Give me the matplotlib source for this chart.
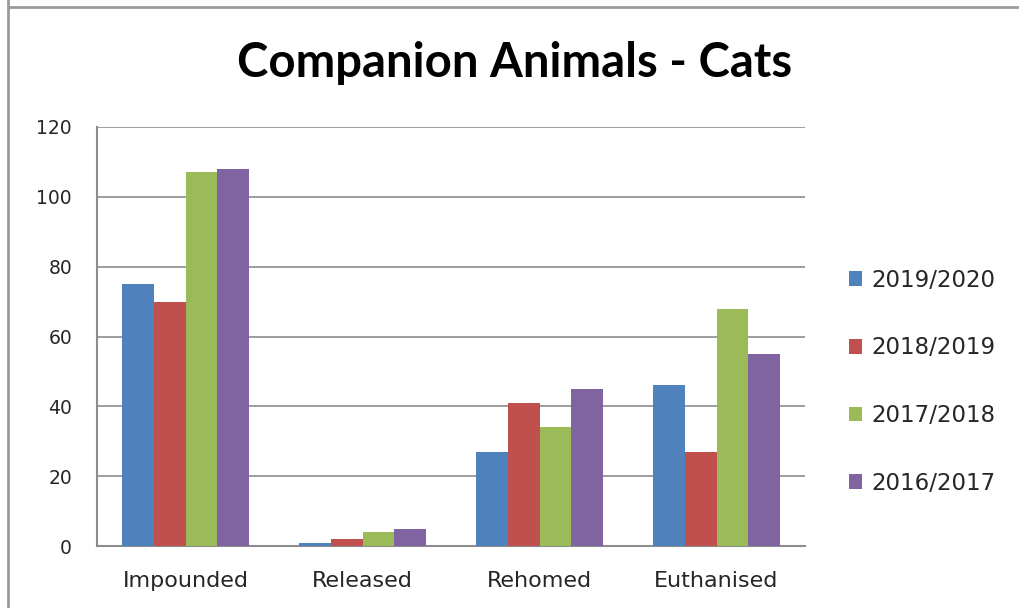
import numpy as np
import matplotlib
matplotlib.use("Agg")
import matplotlib.pyplot as plt
from matplotlib.lines import Line2D

# data
categories = ["Impounded", "Released", "Rehomed", "Euthanised"]
years = ["2019/2020", "2018/2019", "2017/2018", "2016/2017"]
v_2019_2020 = [75, 1, 27, 46]
v_2018_2019 = [70, 2, 41, 27]
v_2017_2018 = [107, 4, 34, 68]
v_2016_2017 = [108, 5, 45, 55]
series = [v_2019_2020, v_2018_2019, v_2017_2018, v_2016_2017]
colors = ["#4F81BD", "#C0504D", "#9BBB59", "#8064A2"]

fig = plt.figure(figsize=(10.19, 6.08), dpi=100)
ax = fig.add_axes([97 / 1019, 1 - 546 / 608, (805 - 97) / 1019, (546 - 127) / 608])

x = np.arange(len(categories))
width = 0.72 / len(series)
for i, (vals, name) in enumerate(zip(series, years)):
    ax.bar(x + (i - 1.5) * width, vals, width, color=colors[i], label=name, zorder=3)

ax.set_xlim(-0.5, len(categories) - 0.5)
ax.set_ylim(0, 120)
ax.set_yticks(range(0, 121, 20))
ax.set_xticks(x)
ax.set_xticklabels(categories)
ax.yaxis.grid(True, color="#8c8c8c", linewidth=1.2, zorder=0)
for s in ["top", "right"]:
    ax.spines[s].set_visible(False)
ax.spines["left"].set_color("#8c8c8c")
ax.spines["bottom"].set_color("#8c8c8c")
ax.spines["left"].set_linewidth(1.5)
ax.spines["bottom"].set_linewidth(1.5)
ax.tick_params(axis="both", length=0, labelcolor="#262626")
ax.tick_params(axis="y", labelsize=13.5, pad=18)
ax.tick_params(axis="x", labelsize=16, pad=18)

fig.text(515 / 1019, 1 - 63 / 608, "Companion Animals - Cats", ha="center", va="center",
         fontsize=34, fontweight="bold", family="Lato")

leg = ax.legend(loc="upper left", bbox_to_anchor=(828 / 1019, 1 - 248 / 608),
                bbox_transform=fig.transFigure, frameon=False, fontsize=16.5,
                handlelength=0.6, handleheight=0.6, handletextpad=0.4, labelspacing=1.95)
for t in leg.get_texts():
    t.set_color("#262626")

# sheet border lines
fig.add_artist(Line2D([9 / 1019, 1], [1 - 7 / 608] * 2, transform=fig.transFigure, color="#9a9a9a", linewidth=2))
fig.add_artist(Line2D([8 / 1019] * 2, [0, 1], transform=fig.transFigure, color="#9a9a9a", linewidth=2))

fig.savefig("out.png", dpi=100)
